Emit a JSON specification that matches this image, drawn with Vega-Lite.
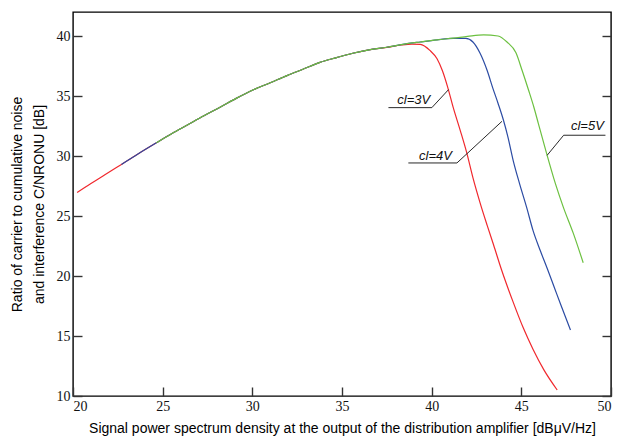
{
  "$schema": "https://vega.github.io/schema/vega-lite/v6.json",
  "width": 538,
  "height": 384,
  "autosize": {"type": "none"},
  "padding": {"left": 73, "top": 12, "right": 8, "bottom": 43},
  "background": "white",
  "config": {
    "view": {"stroke": "#000", "strokeWidth": 1.4},
    "axis": {
      "domain": false,
      "grid": false,
      "tickSize": -9,
      "tickColor": "#333",
      "tickWidth": 1.4,
      "labelFont": "Liberation Serif",
      "labelFontSize": 14,
      "labelColor": "#111",
      "titleFont": "Liberation Sans",
      "titleFontSize": 14,
      "titleFontWeight": "normal",
      "titleColor": "#000",
      "titleLineHeight": 22
    }
  },
  "datasets": {
    "curves": [
      {"series": "cl=3V", "x": 20.23, "y": 26.95},
      {"series": "cl=3V", "x": 21.0, "y": 27.7},
      {"series": "cl=3V", "x": 21.8, "y": 28.45},
      {"series": "cl=3V", "x": 22.7, "y": 29.3},
      {"series": "cl=3V", "x": 23.6, "y": 30.15},
      {"series": "cl=3V", "x": 24.65, "y": 31.1},
      {"series": "cl=3V", "x": 25.5, "y": 31.85},
      {"series": "cl=3V", "x": 26.4, "y": 32.6},
      {"series": "cl=3V", "x": 27.3, "y": 33.35},
      {"series": "cl=3V", "x": 28.2, "y": 34.06},
      {"series": "cl=3V", "x": 29.1, "y": 34.8},
      {"series": "cl=3V", "x": 30.03, "y": 35.5},
      {"series": "cl=3V", "x": 31.0, "y": 36.1},
      {"series": "cl=3V", "x": 31.93, "y": 36.7},
      {"series": "cl=3V", "x": 32.85, "y": 37.25},
      {"series": "cl=3V", "x": 33.77, "y": 37.8},
      {"series": "cl=3V", "x": 34.7, "y": 38.2},
      {"series": "cl=3V", "x": 35.6, "y": 38.56},
      {"series": "cl=3V", "x": 36.5, "y": 38.85},
      {"series": "cl=3V", "x": 37.5, "y": 39.05},
      {"series": "cl=3V", "x": 38.3, "y": 39.25},
      {"series": "cl=3V", "x": 38.9, "y": 39.33},
      {"series": "cl=3V", "x": 39.36, "y": 39.3},
      {"series": "cl=3V", "x": 39.9, "y": 38.8},
      {"series": "cl=3V", "x": 40.3, "y": 38.1},
      {"series": "cl=3V", "x": 40.6, "y": 37.1},
      {"series": "cl=3V", "x": 40.9, "y": 35.7},
      {"series": "cl=3V", "x": 41.2, "y": 34.05},
      {"series": "cl=3V", "x": 41.6, "y": 32.1},
      {"series": "cl=3V", "x": 41.95, "y": 30.3},
      {"series": "cl=3V", "x": 42.3, "y": 28.2},
      {"series": "cl=3V", "x": 42.7, "y": 26.1},
      {"series": "cl=3V", "x": 43.1, "y": 24.2},
      {"series": "cl=3V", "x": 43.45, "y": 22.6},
      {"series": "cl=3V", "x": 43.9, "y": 20.5},
      {"series": "cl=3V", "x": 44.55, "y": 17.8},
      {"series": "cl=3V", "x": 45.1, "y": 15.7},
      {"series": "cl=3V", "x": 45.65, "y": 13.9},
      {"series": "cl=3V", "x": 46.25, "y": 12.2},
      {"series": "cl=3V", "x": 47.0, "y": 10.5},
      {"series": "cl=4V", "x": 22.7, "y": 29.3},
      {"series": "cl=4V", "x": 23.6, "y": 30.15},
      {"series": "cl=4V", "x": 24.65, "y": 31.1},
      {"series": "cl=4V", "x": 25.5, "y": 31.85},
      {"series": "cl=4V", "x": 26.4, "y": 32.6},
      {"series": "cl=4V", "x": 27.3, "y": 33.35},
      {"series": "cl=4V", "x": 28.2, "y": 34.06},
      {"series": "cl=4V", "x": 29.1, "y": 34.8},
      {"series": "cl=4V", "x": 30.03, "y": 35.5},
      {"series": "cl=4V", "x": 31.0, "y": 36.1},
      {"series": "cl=4V", "x": 31.93, "y": 36.7},
      {"series": "cl=4V", "x": 32.85, "y": 37.25},
      {"series": "cl=4V", "x": 33.77, "y": 37.8},
      {"series": "cl=4V", "x": 34.7, "y": 38.2},
      {"series": "cl=4V", "x": 35.6, "y": 38.56},
      {"series": "cl=4V", "x": 36.5, "y": 38.85},
      {"series": "cl=4V", "x": 37.5, "y": 39.06},
      {"series": "cl=4V", "x": 38.4, "y": 39.3},
      {"series": "cl=4V", "x": 39.36, "y": 39.5},
      {"series": "cl=4V", "x": 40.3, "y": 39.68},
      {"series": "cl=4V", "x": 41.2, "y": 39.8},
      {"series": "cl=4V", "x": 41.9, "y": 39.8},
      {"series": "cl=4V", "x": 42.3, "y": 39.5},
      {"series": "cl=4V", "x": 42.7, "y": 38.56},
      {"series": "cl=4V", "x": 43.1, "y": 37.1},
      {"series": "cl=4V", "x": 43.4, "y": 35.7},
      {"series": "cl=4V", "x": 43.7, "y": 34.4},
      {"series": "cl=4V", "x": 44.0, "y": 33.0},
      {"series": "cl=4V", "x": 44.25, "y": 31.6},
      {"series": "cl=4V", "x": 44.55, "y": 29.6},
      {"series": "cl=4V", "x": 44.9, "y": 27.7},
      {"series": "cl=4V", "x": 45.3, "y": 25.7},
      {"series": "cl=4V", "x": 45.65, "y": 23.8},
      {"series": "cl=4V", "x": 46.06, "y": 22.1},
      {"series": "cl=4V", "x": 46.45, "y": 20.6},
      {"series": "cl=4V", "x": 46.85, "y": 19.0},
      {"series": "cl=4V", "x": 47.2, "y": 17.6},
      {"series": "cl=4V", "x": 47.74, "y": 15.5},
      {"series": "cl=5V", "x": 24.65, "y": 31.1},
      {"series": "cl=5V", "x": 25.5, "y": 31.85},
      {"series": "cl=5V", "x": 26.4, "y": 32.6},
      {"series": "cl=5V", "x": 27.3, "y": 33.35},
      {"series": "cl=5V", "x": 28.2, "y": 34.06},
      {"series": "cl=5V", "x": 29.1, "y": 34.8},
      {"series": "cl=5V", "x": 30.03, "y": 35.5},
      {"series": "cl=5V", "x": 31.0, "y": 36.1},
      {"series": "cl=5V", "x": 31.93, "y": 36.7},
      {"series": "cl=5V", "x": 32.85, "y": 37.25},
      {"series": "cl=5V", "x": 33.77, "y": 37.8},
      {"series": "cl=5V", "x": 34.7, "y": 38.2},
      {"series": "cl=5V", "x": 35.6, "y": 38.56},
      {"series": "cl=5V", "x": 36.5, "y": 38.85},
      {"series": "cl=5V", "x": 37.5, "y": 39.06},
      {"series": "cl=5V", "x": 38.4, "y": 39.3},
      {"series": "cl=5V", "x": 39.36, "y": 39.5},
      {"series": "cl=5V", "x": 40.3, "y": 39.68},
      {"series": "cl=5V", "x": 41.2, "y": 39.82},
      {"series": "cl=5V", "x": 42.0, "y": 39.97},
      {"series": "cl=5V", "x": 42.9, "y": 40.1},
      {"series": "cl=5V", "x": 43.7, "y": 40.0},
      {"series": "cl=5V", "x": 44.2, "y": 39.5},
      {"series": "cl=5V", "x": 44.7, "y": 38.6},
      {"series": "cl=5V", "x": 45.05, "y": 37.1},
      {"series": "cl=5V", "x": 45.4, "y": 35.5},
      {"series": "cl=5V", "x": 45.7, "y": 34.06},
      {"series": "cl=5V", "x": 45.95, "y": 32.7},
      {"series": "cl=5V", "x": 46.3, "y": 30.8},
      {"series": "cl=5V", "x": 46.9, "y": 27.7},
      {"series": "cl=5V", "x": 47.35, "y": 25.7},
      {"series": "cl=5V", "x": 47.9, "y": 23.55},
      {"series": "cl=5V", "x": 48.45, "y": 21.1}
    ],
    "leaders": [
      {"series": "cl=3V", "order": 1, "x": 37.59, "y": 34.03},
      {"series": "cl=3V", "order": 2, "x": 40.01, "y": 34.03},
      {"series": "cl=3V", "order": 3, "x": 40.94, "y": 35.53},
      {"series": "cl=4V", "order": 1, "x": 38.7, "y": 29.42},
      {"series": "cl=4V", "order": 2, "x": 41.41, "y": 29.42},
      {"series": "cl=4V", "order": 3, "x": 43.92, "y": 32.89},
      {"series": "cl=5V", "order": 1, "x": 46.44, "y": 30.06},
      {"series": "cl=5V", "order": 2, "x": 47.36, "y": 31.73},
      {"series": "cl=5V", "order": 3, "x": 49.69, "y": 31.73}
    ],
    "labels": [
      {"label": "cl=3V", "x": 39.92, "y": 34.31},
      {"label": "cl=4V", "x": 41.13, "y": 29.7},
      {"label": "cl=5V", "x": 49.6, "y": 32.2}
    ]
  },
  "layer": [
    {
      "data": {"name": "curves"},
      "mark": {"type": "line", "strokeWidth": 1.2, "interpolate": "monotone"},
      "encoding": {
        "x": {
          "field": "x", "type": "quantitative",
          "scale": {"domain": [20, 50], "nice": false, "zero": false},
          "axis": {
            "values": [20, 25, 30, 35, 40, 45, 50],
            "title": "Signal power spectrum density at the output of the distribution amplifier [dBμV/Hz]",
            "labelPadding": 12,
            "titlePadding": 8
          }
        },
        "y": {
          "field": "y", "type": "quantitative",
          "scale": {"domain": [10, 42], "nice": false, "zero": false},
          "axis": {
            "orient": "left",
            "values": [10, 15, 20, 25, 30, 35, 40],
            "title": ["Ratio of carrier to cumulative noise", "and interference C/NRONU [dB]"],
            "titleLineHeight": 22,
            "labelPadding": 12,
            "titlePadding": 10
          }
        },
        "color": {
          "field": "series", "type": "nominal",
          "scale": {"domain": ["cl=3V", "cl=4V", "cl=5V"], "range": ["#f0282d", "#2b4ba3", "#6cc040"]},
          "legend": null
        }
      }
    },
    {
      "data": {"name": "leaders"},
      "mark": {"type": "line", "color": "#111", "strokeWidth": 0.9},
      "encoding": {
        "x": {"field": "x", "type": "quantitative", "axis": null},
        "y": {
          "field": "y", "type": "quantitative",
          "axis": {"orient": "right", "values": [10, 15, 20, 25, 30, 35, 40], "labels": false, "title": null}
        },
        "detail": {"field": "series"},
        "order": {"field": "order"}
      }
    },
    {
      "data": {"name": "labels"},
      "mark": {"type": "text", "align": "right", "baseline": "alphabetic", "font": "Liberation Sans", "fontSize": 13, "fontStyle": "italic", "color": "#111"},
      "encoding": {
        "x": {"field": "x", "type": "quantitative", "axis": null},
        "y": {"field": "y", "type": "quantitative", "axis": null},
        "text": {"field": "label"}
      }
    }
  ],
  "resolve": {"axis": {"x": "independent", "y": "independent"}}
}
